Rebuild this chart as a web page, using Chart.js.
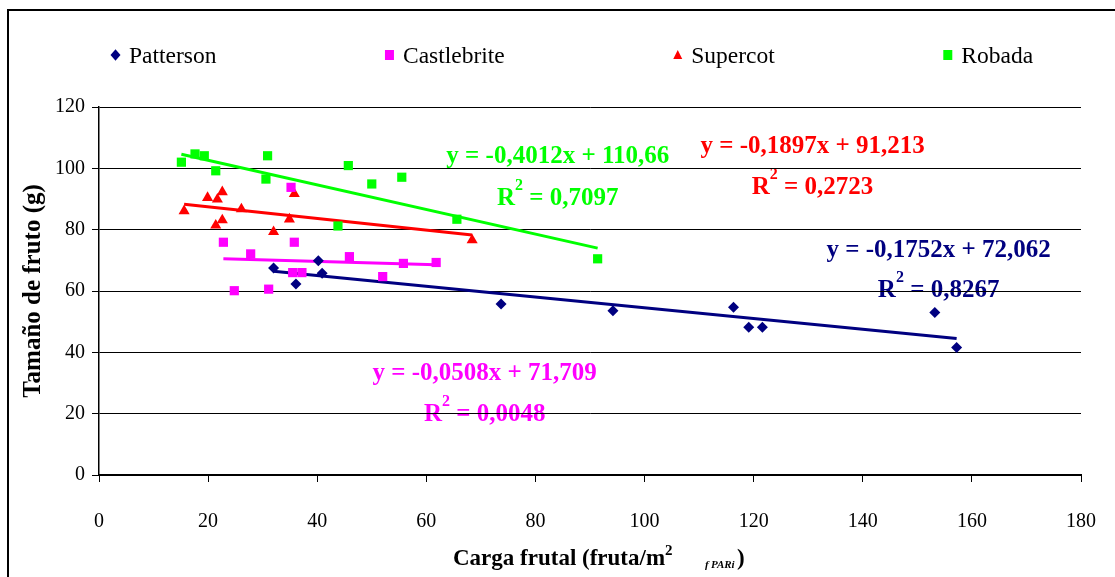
<!doctype html>
<html lang="es">
<head>
<meta charset="utf-8">
<title>Tamaño de fruto y carga frutal</title>
<script src="https://cdn.jsdelivr.net/npm/chart.js"></script>
<style>
  html, body { margin: 0; padding: 0; background: #fff; }
  #wrap { width: 1115px; height: 577px; }
</style>
</head>
<body>
<div id="wrap"><canvas id="carga" width="1115" height="577"></canvas></div>
<script>
  // datos
  const varieties = ['Patterson', 'Castlebrite', 'Supercot', 'Robada'];

  const pattersonX = [32.0, 36.1, 40.2, 40.9, 73.7, 94.2, 116.3, 119.1, 121.6, 153.2, 157.2];
  const pattersonY = [67.5, 62.3, 69.9, 65.8, 55.8, 53.6, 54.7, 48.2, 48.2, 53.0, 41.6];

  const castlebriteX = [22.8, 24.8, 27.8, 31.1, 35.2, 35.5, 35.8, 37.2, 45.9, 52.0, 55.8, 61.8];
  const castlebriteY = [75.9, 60.1, 72.1, 60.6, 93.8, 66.0, 75.9, 66.0, 71.2, 64.7, 69.0, 69.3];

  const supercotX = [15.6, 19.9, 21.4, 21.7, 22.6, 22.6, 26.1, 32.0, 34.9, 35.8, 68.4];
  const supercotY = [86.1, 90.4, 81.4, 89.9, 92.3, 83.1, 86.7, 79.3, 83.4, 91.7, 76.6];

  const robadaX = [15.1, 17.6, 19.3, 21.4, 30.6, 30.9, 43.8, 45.7, 50.0, 55.5, 65.6, 91.4];
  const robadaY = [102.0, 104.7, 104.1, 99.2, 96.5, 104.1, 81.2, 100.9, 94.9, 97.1, 83.4, 70.5];

  // líneas de tendencia (Excel)
  const slopes = [-0.1752, -0.0508, -0.1897, -0.4012];
  const intercepts = [72.062, 71.709, 91.213, 110.66];
  const rSquared = ['0,8267', '0,0048', '0,2723', '0,7097'];

  const xTicks = [0, 20, 40, 60, 80, 100, 120, 140, 160, 180];
  const yTicks = [0, 20, 40, 60, 80, 100, 120];

  // aspecto
  const colors = ['#000080', '#FF00FF', '#FF0000', '#00FF00'];
  const pointStyles = ['rectRot', 'rect', 'triangle', 'rect'];
  const pointRadii = [5.5, 6.5, 6.4, 6.5];
  // posición (en unidades de los ejes) de cada ecuación: x centro, línea y, línea R²
  const eqAnchors = [
    [153.9, 71.1, 58.0],
    [70.7, 31.0, 17.6],
    [130.8, 105.0, 91.6],
    [84.1, 101.7, 88.0]
  ];

  const serif = '"Liberation Serif", "Times New Roman", serif';
  const seriesX = [pattersonX, castlebriteX, supercotX, robadaX];
  const seriesY = [pattersonY, castlebriteY, supercotY, robadaY];

  const pointSets = varieties.map((name, i) => ({
    label: name,
    data: seriesX[i].map((x, k) => ({ x: x, y: seriesY[i][k] })),
    pointStyle: pointStyles[i],
    pointRadius: pointRadii[i],
    pointHoverRadius: pointRadii[i],
    backgroundColor: colors[i],
    borderColor: colors[i],
    borderWidth: 0,
    order: 0
  }));

  const trendSets = varieties.map((name, i) => {
    const lo = Math.min(...seriesX[i]);
    const hi = Math.max(...seriesX[i]);
    return {
      label: 'trend ' + name,
      data: [lo, hi].map(x => ({ x: x, y: slopes[i] * x + intercepts[i] })),
      showLine: true,
      pointRadius: 0,
      borderColor: colors[i],
      borderWidth: 3,
      order: 1
    };
  });

  function fmt(n) {
    return String(n).replace('.', ',');
  }

  function drawMarker(ctx, style, x, y, r, color) {
    ctx.save();
    ctx.fillStyle = color;
    ctx.beginPath();
    if (style === 'rectRot') {
      ctx.moveTo(x, y - r * 1.15);
      ctx.lineTo(x + r, y);
      ctx.lineTo(x, y + r * 1.15);
      ctx.lineTo(x - r, y);
    } else if (style === 'triangle') {
      ctx.moveTo(x, y - r);
      ctx.lineTo(x + r * 0.9, y + r * 0.8);
      ctx.lineTo(x - r * 0.9, y + r * 0.8);
    } else {
      ctx.rect(x - r * 0.9, y - r, r * 1.8, r * 2);
    }
    ctx.closePath();
    ctx.fill();
    ctx.restore();
  }

  // ecuaciones y R² (debajo de la rejilla, como en Excel)
  const equationsPlugin = {
    id: 'equations',
    beforeDraw(chart) {
      const { ctx, scales } = chart;
      ctx.save();
      ctx.textBaseline = 'alphabetic';
      varieties.forEach((name, i) => {
        const cx = scales.x.getPixelForValue(eqAnchors[i][0]);
        const y1 = scales.y.getPixelForValue(eqAnchors[i][1]);
        const y2 = scales.y.getPixelForValue(eqAnchors[i][2]);
        ctx.fillStyle = colors[i];
        ctx.font = 'bold 25px ' + serif;
        ctx.textAlign = 'center';
        const eq = 'y = ' + fmt(slopes[i].toFixed(4)) + 'x + ' + fmt(intercepts[i]);
        ctx.fillText(eq, cx, y1);

        ctx.textAlign = 'left';
        const rest = ' = ' + rSquared[i];
        const wR = ctx.measureText('R').width;
        const wRest = ctx.measureText(rest).width;
        ctx.font = 'bold 16px ' + serif;
        const w2 = ctx.measureText('2').width;
        let x0 = cx - (wR + w2 + wRest) / 2;
        ctx.font = 'bold 25px ' + serif;
        ctx.fillText('R', x0, y2);
        ctx.font = 'bold 16px ' + serif;
        ctx.fillText('2', x0 + wR, y2 - 15);
        ctx.font = 'bold 25px ' + serif;
        ctx.fillText(rest, x0 + wR + w2, y2);
      });
      ctx.restore();
    }
  };

  // leyenda, título del eje x y marco
  const decorPlugin = {
    id: 'decor',
    afterDraw(chart) {
      const ctx = chart.ctx;
      ctx.save();

      // leyenda
      ctx.font = '23.5px ' + serif;
      ctx.fillStyle = '#000';
      ctx.textAlign = 'left';
      ctx.textBaseline = 'alphabetic';
      let mx = 115.5;
      varieties.forEach((name, i) => {
        drawMarker(ctx, pointStyles[i], mx, 55, 5, colors[i]);
        ctx.fillStyle = '#000';
        ctx.fillText(name, mx + 13.5, 63);
        mx += 13.5 + ctx.measureText(name).width + 173;
      });

      // título eje x con superíndice y subíndice
      let tx = 453;
      const base = 565;
      ctx.font = 'bold 23px ' + serif;
      const main = 'Carga frutal (fruta/m';
      ctx.fillText(main, tx, base);
      tx += ctx.measureText(main).width;
      ctx.font = 'bold 15px ' + serif;
      ctx.fillText('2', tx, base - 10);
      ctx.font = 'bold italic 11px ' + serif;
      ctx.fillText('f', 705, base + 3);
      ctx.fillText('PARi', 711, base + 3);
      ctx.font = 'bold 23px ' + serif;
      ctx.fillText(')', 737, base);

      // marco exterior
      ctx.strokeStyle = '#000';
      ctx.lineWidth = 2;
      ctx.strokeRect(8, 10, 1200, 700);
      ctx.restore();
    }
  };

  new Chart(document.getElementById('carga'), {
    type: 'scatter',
    data: { datasets: [...pointSets, ...trendSets] },
    options: {
      responsive: false,
      animation: false,
      events: [],
      layout: { padding: { left: 8, right: 34, top: 107, bottom: 0 } },
      plugins: {
        legend: { display: false },
        tooltip: { enabled: false }
      },
      scales: {
        x: {
          type: 'linear',
          min: xTicks[0],
          max: xTicks[xTicks.length - 1],
          afterBuildTicks: axis => { axis.ticks = xTicks.map(v => ({ value: v })); },
          afterFit: axis => {
            axis.height = 102;
            axis.paddingLeft = 0;
            axis.paddingRight = 0;
          },
          grid: {
            display: true,
            drawOnChartArea: false,
            drawTicks: true,
            tickLength: 7,
            color: '#000',
            lineWidth: 1
          },
          border: { display: true, color: '#000', width: 2 },
          ticks: {
            color: '#000',
            padding: 28,
            maxRotation: 0,
            font: { family: serif, size: 20 }
          }
        },
        y: {
          type: 'linear',
          min: yTicks[0],
          max: yTicks[yTicks.length - 1],
          afterBuildTicks: axis => { axis.ticks = yTicks.map(v => ({ value: v })); },
          afterFit: axis => { axis.width = 91; },
          grid: {
            color: '#000',
            lineWidth: 1,
            drawTicks: true,
            tickLength: 7
          },
          border: { display: true, color: '#000', width: 1.5 },
          ticks: {
            color: '#000',
            padding: 7,
            font: { family: serif, size: 20 }
          },
          title: {
            display: true,
            text: 'Tamaño de fruto (g)',
            color: '#000',
            padding: { top: 11, bottom: 0 },
            font: { family: serif, size: 25, weight: 'bold' }
          }
        }
      }
    },
    plugins: [equationsPlugin, decorPlugin]
  });
</script>
</body>
</html>
